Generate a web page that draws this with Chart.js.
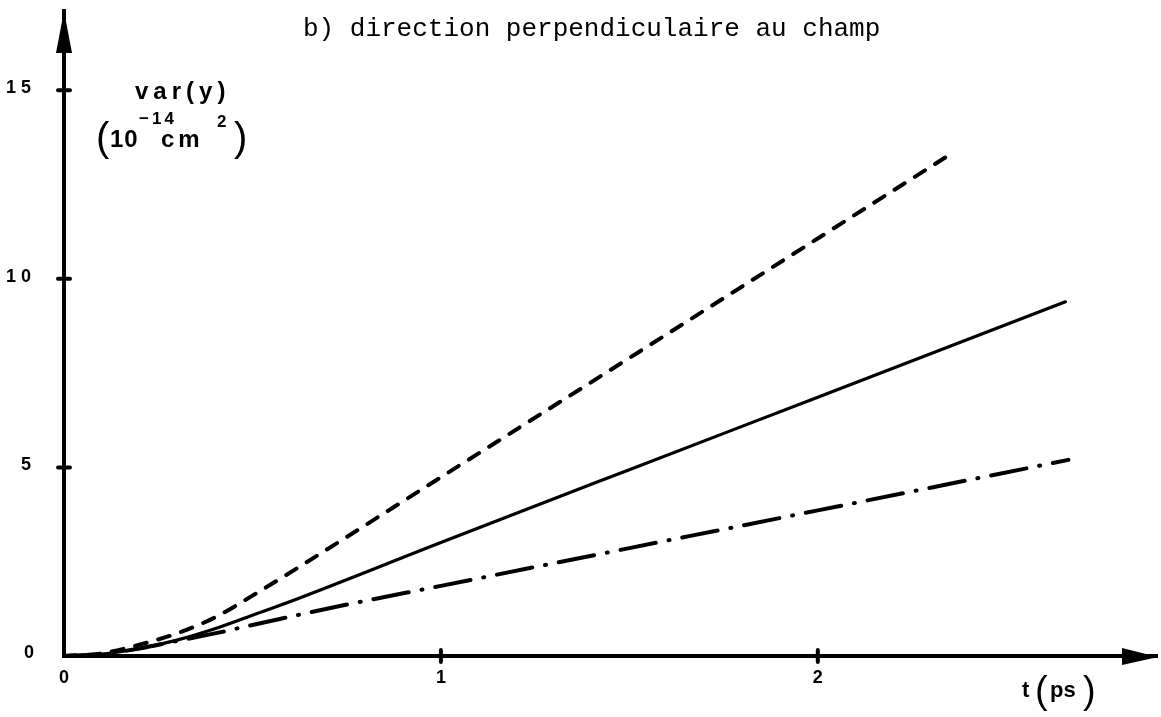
<!DOCTYPE html>
<html>
<head>
<meta charset="utf-8">
<script src="https://cdn.jsdelivr.net/npm/chart.js@4.4.1/dist/chart.umd.min.js"></script>
<style>
  body { margin: 0; background: #fff; }
  #wrap { width: 1161px; height: 717px; }
</style>
</head>
<body>
<div id="wrap"><canvas id="var-y" width="1161" height="717"></canvas></div>
<script>
// t in ps, var(y) in 1e-14 cm^2
const tDashed = [0, 0.1, 0.2, 0.3, 0.4, 0.5, 0.63, 1.0, 1.5, 2.0, 2.356];
const varDashed = [0, 0.07, 0.3, 0.6, 1.02, 1.6, 2.4, 4.74, 7.9, 11.07, 13.33];

const tSolid = [0, 0.1, 0.2, 0.3, 0.4, 0.5, 0.62, 1.0, 1.5, 2.0, 2.657];
const varSolid = [0, 0.05, 0.2, 0.42, 0.72, 1.08, 1.52, 3.01, 4.94, 6.86, 9.39];

const tDashDot = [0, 0.1, 0.2, 0.3, 0.4, 0.5, 0.71, 1.0, 1.5, 2.0, 2.665];
const varDashDot = [0, 0.05, 0.2, 0.4, 0.6, 0.82, 1.28, 1.86, 2.86, 3.86, 5.2];

const xTicks = [0, 1, 2];
const yTicks = [0, 5, 10, 15];

const toPoints = (ts, vs) => ts.map((t, i) => ({x: t, y: vs[i]}));

function lineSet(ts, vs, dash){
  return {
    data: toPoints(ts, vs),
    borderColor: "#000",
    borderWidth: dash.length ? 4 : 3.2,
    borderDash: dash,
    borderCapStyle: "round",
    pointRadius: 0,
    fill: false,
    cubicInterpolationMode: "monotone"
  };
}

// arrows, tick marks, y tick labels and the hand-lettered axis names
const decorations = {
  id: "decorations",
  afterDraw(chart){
    const ctx = chart.ctx;
    const xs = chart.scales.x, ys = chart.scales.y;
    const x0 = xs.getPixelForValue(0), y0 = ys.getPixelForValue(0);
    const area = chart.chartArea;
    ctx.save();
    ctx.fillStyle = "#000";
    ctx.strokeStyle = "#000";

    // arrow heads
    ctx.beginPath();
    ctx.moveTo(x0, area.top);
    ctx.lineTo(x0 - 8, area.top + 42);
    ctx.lineTo(x0 + 8, area.top + 42);
    ctx.closePath();
    ctx.fill();
    ctx.beginPath();
    ctx.moveTo(area.right + 1, y0 + 1);
    ctx.lineTo(area.right - 35, y0 - 8);
    ctx.lineTo(area.right - 35, y0 + 9);
    ctx.closePath();
    ctx.fill();

    // tick marks crossing the axes
    ctx.lineWidth = 4;
    ctx.lineCap = "round";
    xTicks.slice(1).forEach(function(v){
      const px = xs.getPixelForValue(v);
      ctx.beginPath();
      ctx.moveTo(px, y0 - 6);
      ctx.lineTo(px, y0 + 6);
      ctx.stroke();
    });
    yTicks.slice(1).forEach(function(v){
      const py = ys.getPixelForValue(v);
      ctx.beginPath();
      ctx.moveTo(x0 - 6, py);
      ctx.lineTo(x0 + 6, py);
      ctx.stroke();
    });

    // y tick labels, right aligned well left of the axis
    ctx.font = 'bold 18px "Liberation Sans"';
    ctx.textAlign = "right";
    ctx.textBaseline = "middle";
    yTicks.forEach(function(v){
      const py = ys.getPixelForValue(v);
      ctx.fillText(String(v).split("").join(" "), v == 0 ? 34 : 31, v == 0 ? py - 3 : py - 2);
    });
    ctx.textAlign = "left";

    // title
    ctx.textBaseline = "alphabetic";
    ctx.font = '26px "Liberation Mono"';
    ctx.fillText("b) direction perpendiculaire au champ", 303, 36);

    // y axis name
    ctx.font = 'bold 24px "Liberation Sans"';
    ctx.letterSpacing = "5px";
    ctx.fillText("var(y)", 135, 99);
    ctx.letterSpacing = "0px";
    ctx.font = '40px "Liberation Sans"';
    ctx.fillText("(", 96, 151);
    ctx.fillText(")", 234, 151);
    ctx.font = 'bold 24px "Liberation Sans"';
    ctx.letterSpacing = "1px";
    ctx.fillText("10", 110, 147);
    ctx.letterSpacing = "4px";
    ctx.fillText("cm", 161, 147);
    ctx.font = 'bold 17px "Liberation Sans"';
    ctx.letterSpacing = "3px";
    ctx.fillText("\u221214", 139, 124);
    ctx.letterSpacing = "0px";
    ctx.fillText("2", 217, 127);

    // x axis name
    ctx.font = 'bold 22px "Liberation Sans"';
    ctx.fillText("t", 1022, 697);
    ctx.font = '38px "Liberation Sans"';
    ctx.fillText("(", 1035, 703);
    ctx.fillText(")", 1083, 703);
    ctx.font = 'bold 22px "Liberation Sans"';
    ctx.fillText("ps", 1050, 697);
    ctx.restore();
  }
};

new Chart(document.getElementById("var-y"), {
  type: "line",
  data: {
    datasets: [
      lineSet(tDashed, varDashed, [12, 12]),
      lineSet(tSolid, varSolid, []),
      lineSet(tDashDot, varDashDot, [36, 13, 1, 13])
    ]
  },
  options: {
    responsive: false,
    animation: false,
    events: [],
    layout: { padding: { left: 0, right: 4, top: 11, bottom: 0 } },
    plugins: {
      legend: { display: false },
      tooltip: { enabled: false }
    },
    scales: {
      x: {
        type: "linear",
        min: 0,
        max: 2.9,
        afterBuildTicks: (s) => { s.ticks = xTicks.map(v => ({value: v})); },
        afterFit: (s) => { s.height = 61; },
        grid: { display: false, drawTicks: false },
        border: { display: true, color: "#000", width: 4 },
        ticks: {
          color: "#000",
          padding: 11,
          font: { family: "Liberation Sans", size: 18, weight: "bold" }
        }
      },
      y: {
        type: "linear",
        min: 0,
        max: 17.1,
        afterBuildTicks: (s) => { s.ticks = yTicks.map(v => ({value: v})); },
        afterFit: (s) => { s.width = 64; },
        grid: { display: false, drawTicks: false },
        border: { display: true, color: "#000", width: 4 },
        ticks: { display: false }
      }
    }
  },
  plugins: [decorations]
});
</script>
</body>
</html>
